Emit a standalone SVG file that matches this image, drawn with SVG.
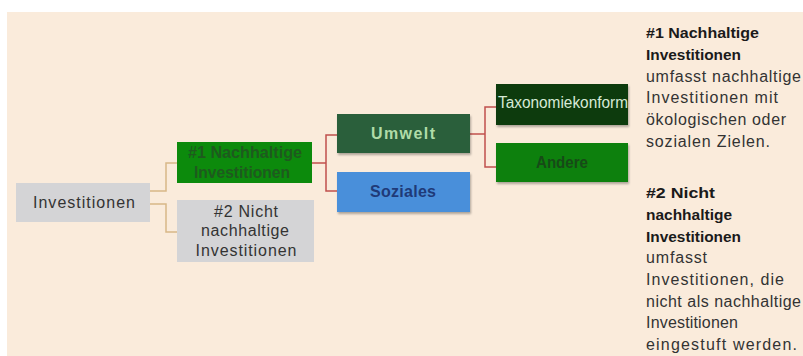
<svg xmlns="http://www.w3.org/2000/svg" width="803" height="356" viewBox="0 0 803 356">
<defs>
<style>
text{font-family:"Liberation Sans",Arial,sans-serif;}
.lbl{font-size:16px;text-anchor:middle;}
.side{font-size:16px;fill:#333;}
.sideb{font-size:15px;font-weight:bold;fill:#1a1a1a;}
.tan{fill:none;stroke:#D8B888;stroke-width:1.5;}
.red{fill:none;stroke:#C0504D;stroke-width:1.5;}
</style>
<filter id="sh" x="-10%" y="-10%" width="120%" height="130%">
<feDropShadow dx="1" dy="2" stdDeviation="1.2" flood-color="#000" flood-opacity="0.3"/>
</filter>
</defs>
<rect x="0" y="0" width="803" height="356" fill="#ffffff"/>
<rect x="7" y="12" width="796" height="344" fill="#FAEBDB"/>

<g id="connectors">
<path class="tan" d="M150,191 H166 V163 H177"/>
<path class="tan" d="M150,204 H166 V232 H177"/>
<path class="red" d="M312,163 H326"/>
<path class="red" d="M337,135 H326 V191 H337"/>
<path class="red" d="M470,134 H485"/>
<path class="red" d="M496,107 H485 V167 H496"/>
</g>

<g id="n-investitionen">
<rect x="16" y="183" width="134" height="39" fill="#D4D4D6"/>
<text class="lbl" x="84" y="208" fill="#333" textLength="102" lengthAdjust="spacing">Investitionen</text>
</g>

<g id="n-nachhaltig">
<rect x="177" y="142" width="135" height="41" fill="#0C8A0C"/>
<text class="lbl" x="245" y="158" fill="#1E5A1E" font-weight="bold" textLength="114" lengthAdjust="spacingAndGlyphs">#1 Nachhaltige</text>
<text class="lbl" x="242" y="178" fill="#1E5A1E" font-weight="bold" textLength="96" lengthAdjust="spacingAndGlyphs">Investitionen</text>
</g>

<g id="n-nicht">
<rect x="177" y="200" width="137" height="62" fill="#D4D4D6"/>
<text class="lbl" x="246" y="217" fill="#333" textLength="64" lengthAdjust="spacing">#2 Nicht</text>
<text class="lbl" x="245" y="236" fill="#333" textLength="88" lengthAdjust="spacing">nachhaltige</text>
<text class="lbl" x="246" y="256" fill="#333" textLength="101" lengthAdjust="spacing">Investitionen</text>
</g>

<g id="n-umwelt">
<rect x="337" y="114" width="133" height="39" fill="#2C5E3A" filter="url(#sh)"/>
<text class="lbl" x="403" y="139" fill="#B0DCA8" font-weight="bold" textLength="64" lengthAdjust="spacing">Umwelt</text>
</g>

<g id="n-soziales">
<rect x="337" y="172" width="133" height="40" fill="#4A8FDA" filter="url(#sh)"/>
<text class="lbl" x="403" y="197" fill="#1F3A78" font-weight="bold" textLength="66" lengthAdjust="spacing">Soziales</text>
</g>

<g id="n-taxonomie">
<rect x="496" y="84" width="132" height="41" fill="#0A3A0A" filter="url(#sh)"/>
<text class="lbl" x="563" y="108" fill="#D6EAD6" textLength="130" lengthAdjust="spacingAndGlyphs">Taxonomiekonform</text>
</g>

<g id="n-andere">
<rect x="496" y="143" width="132" height="39" fill="#0A800A" filter="url(#sh)"/>
<text class="lbl" x="562" y="168" fill="#174A17" font-weight="bold" textLength="52" lengthAdjust="spacingAndGlyphs">Andere</text>
</g>

<g id="legend">
<text class="sideb" x="646" y="38" textLength="113" lengthAdjust="spacingAndGlyphs">#1 Nachhaltige</text>
<text class="sideb" x="646" y="60" textLength="95" lengthAdjust="spacingAndGlyphs">Investitionen</text>
<text class="side" x="646" y="82" textLength="155" lengthAdjust="spacing">umfasst nachhaltige</text>
<text class="side" x="646" y="103" textLength="132" lengthAdjust="spacing">Investitionen mit</text>
<text class="side" x="646" y="125" textLength="140" lengthAdjust="spacing">ökologischen oder</text>
<text class="side" x="646" y="147" textLength="124" lengthAdjust="spacing">sozialen Zielen.</text>
<text class="sideb" x="646" y="198" textLength="69" lengthAdjust="spacingAndGlyphs">#2 Nicht</text>
<text class="sideb" x="646" y="220" textLength="86" lengthAdjust="spacingAndGlyphs">nachhaltige</text>
<text class="sideb" x="646" y="242" textLength="95" lengthAdjust="spacingAndGlyphs">Investitionen</text>
<text class="side" x="646" y="263" textLength="61" lengthAdjust="spacing">umfasst</text>
<text class="side" x="646" y="285" textLength="138" lengthAdjust="spacing">Investitionen, die</text>
<text class="side" x="646" y="307" textLength="155" lengthAdjust="spacing">nicht als nachhaltige</text>
<text class="side" x="646" y="328" textLength="92" lengthAdjust="spacing">Investitionen</text>
<text class="side" x="646" y="350" textLength="151" lengthAdjust="spacing">eingestuft werden.</text>
</g>
</svg>
